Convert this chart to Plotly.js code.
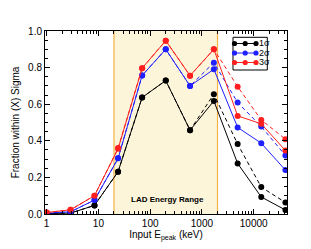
<!DOCTYPE html>
<html><head><meta charset="utf-8">
<script src="https://cdn.plot.ly/plotly-3.0.1.min.js"></script>
<style>html,body{margin:0;padding:0;background:#fff;}#chart{width:311px;height:249px;}</style>
</head><body><div id="chart"></div>
<script>
// Data
var epeak = [1, 2.9, 8.4, 24, 70, 200, 590, 1700, 4900, 14000, 41000];
var sigma1Solid  = [0.002, 0.005, 0.047, 0.231, 0.637, 0.729, 0.458, 0.618, 0.276, 0.093, 0.022];
var sigma1Dashed = [0.002, 0.005, 0.047, 0.231, 0.637, 0.729, 0.458, 0.655, 0.382, 0.147, 0.063];
var sigma2Solid  = [0.004, 0.012, 0.076, 0.304, 0.757, 0.900, 0.700, 0.791, 0.473, 0.387, 0.240];
var sigma2Dashed = [0.004, 0.012, 0.076, 0.304, 0.757, 0.900, 0.700, 0.827, 0.609, 0.478, 0.320];
var sigma3Solid  = [0.008, 0.023, 0.100, 0.356, 0.797, 0.947, 0.756, 0.900, 0.536, 0.493, 0.347];
var sigma3Dashed = [0.008, 0.023, 0.100, 0.360, 0.797, 0.947, 0.756, 0.900, 0.696, 0.514, 0.409];
var seriesLabels = ['1σ', '2σ', '3σ'];
var ladRange = [20, 2000];
var ladLabel = 'LAD Energy Range';

var colors = ['#000000', '#1f1fff', '#ff1f1f'];
var solids = [sigma1Solid, sigma2Solid, sigma3Solid];
var dashes = [sigma1Dashed, sigma2Dashed, sigma3Dashed];

var traces = [];
for (var i = 0; i < 3; i++) {
  traces.push({x: epeak, y: dashes[i], type: 'scatter', mode: 'lines+markers',
    line: {color: colors[i], width: 1, dash: '4px,3px'},
    marker: {color: colors[i], size: 6}, showlegend: false, hoverinfo: 'skip'});
}
for (var i = 0; i < 3; i++) {
  traces.push({x: epeak, y: solids[i], type: 'scatter', mode: 'lines+markers',
    line: {color: colors[i], width: 1},
    marker: {color: colors[i], size: 6}, name: seriesLabels[i], showlegend: false, hoverinfo: 'skip'});
}

// plot-area geometry (pixels)
var W = 311, H = 249, L = 45, R = 24, T = 31, B = 35;
var pw = W - L - R, ph = H - T - B;
function px(X) { return (X - L) / pw; }
function py(Y) { return (H - B - Y) / ph; }

var shapes = [
  {type: 'rect', xref: 'x', yref: 'paper', x0: ladRange[0], x1: ladRange[1], y0: 0, y1: 1,
   fillcolor: '#fdf5da', line: {width: 0}, layer: 'below'},
  {type: 'line', xref: 'x', yref: 'paper', x0: ladRange[0], x1: ladRange[0], y0: 0, y1: 1,
   line: {color: '#f5b445', width: 1.2}, layer: 'below'},
  {type: 'line', xref: 'x', yref: 'paper', x0: ladRange[1], x1: ladRange[1], y0: 0, y1: 1,
   line: {color: '#f5b445', width: 1.2}, layer: 'below'}
];
var annotations = [
  {xref: 'x', yref: 'paper', x: Math.log10(Math.sqrt(ladRange[0]*ladRange[1]*1.2)), y: py(199.5),
   text: '<b>' + ladLabel + '</b>', showarrow: false, font: {size: 8, color: '#000', family: 'Liberation Sans, Arial, sans-serif'},
   xanchor: 'center', yanchor: 'middle'}
];

// manual legend (three markers per sample like the reference)
shapes.push({type: 'rect', xref: 'paper', yref: 'paper', x0: px(233), x1: px(267.3), y0: py(70), y1: py(37.3),
  line: {color: '#000', width: 1}, fillcolor: '#fff'});
var rowY = [43.5, 53, 62.5];
for (var i = 0; i < 3; i++) {
  shapes.push({type: 'line', xref: 'paper', yref: 'paper', x0: px(234.5), x1: px(256), y0: py(rowY[i]), y1: py(rowY[i]),
    line: {color: colors[i], width: 1}});
  [234.5, 245.2, 256].forEach(function (cx) {
    shapes.push({type: 'circle', xref: 'paper', yref: 'paper', x0: px(cx - 2.6), x1: px(cx + 2.6),
      y0: py(rowY[i] + 2.6), y1: py(rowY[i] - 2.6), fillcolor: colors[i], line: {color: colors[i], width: 0}});
  });
  annotations.push({xref: 'paper', yref: 'paper', x: px(257), y: py(rowY[i]), text: seriesLabels[i],
    showarrow: false, xanchor: 'left', yanchor: 'middle', font: {size: 9, color: '#000'}});
}

var fontFam = 'Liberation Sans, Arial, sans-serif';
var layout = {
  width: W, height: H,
  margin: {l: L, r: R, t: T, b: B, pad: 0},
  paper_bgcolor: '#fff', plot_bgcolor: '#fff',
  font: {family: fontFam, size: 10, color: '#000'},
  showlegend: false,
  xaxis: {type: 'log', range: [Math.log10(0.93), Math.log10(44000)],
    tickvals: [1, 10, 100, 1000, 10000], ticktext: ['1', '10', '100', '1000', '10000'],
    ticks: 'inside', ticklen: 5, tickwidth: 1, tickcolor: '#000',
    showline: true, linecolor: '#000', linewidth: 1, mirror: 'ticks', showgrid: false, zeroline: false,
    minor: {tickvals: [2,3,4,5,6,7,8,9,20,30,40,50,60,70,80,90,200,300,400,500,600,700,800,900,2000,3000,4000,5000,6000,7000,8000,9000,20000,30000,40000],
      ticks: 'inside', ticklen: 3, tickcolor: '#000', showgrid: false},
    tickfont: {size: 10},
    title: {text: 'Input E<sub>peak</sub> (keV)', font: {size: 10}, standoff: 2}},
  yaxis: {range: [0, 1], tickvals: [0, 0.2, 0.4, 0.6, 0.8, 1.0], ticktext: ['0.0', '0.2', '0.4', '0.6', '0.8', '1.0'],
    ticks: 'inside', ticklen: 5, tickwidth: 1, tickcolor: '#000',
    showline: true, linecolor: '#000', linewidth: 1, mirror: 'ticks', showgrid: false, zeroline: false,
    minor: {dtick: 0.05, ticks: 'inside', ticklen: 3, tickcolor: '#000', showgrid: false},
    tickfont: {size: 10},
    title: {text: 'Fraction within (X) Sigma', font: {size: 10}, standoff: 6}},
  shapes: shapes,
  annotations: annotations
};
Plotly.newPlot('chart', traces, layout, {displayModeBar: false, staticPlot: true});
</script></body></html>
